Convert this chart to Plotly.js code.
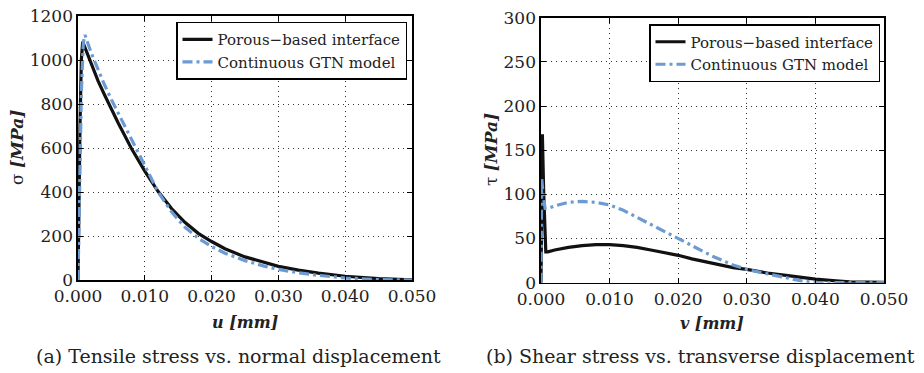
<!DOCTYPE html>
<html>
<head>
<meta charset="utf-8">
<script src="https://cdn.plot.ly/plotly-3.0.1.min.js"></script>
<style>
html,body{margin:0;padding:0;background:#fff;}
#chart{width:924px;height:373px;}
</style>
</head>
<body>
<div id="chart"></div>
<script>
// (a) Tensile stress vs. normal displacement
const uPorous = [0, 0.0001, 0.0003, 0.0005, 0.0007, 0.001, 0.002, 0.003, 0.004, 0.005, 0.006, 0.008, 0.010, 0.012, 0.014, 0.016, 0.018, 0.020, 0.022, 0.025, 0.028, 0.030, 0.033, 0.036, 0.040, 0.045, 0.050];
const sigmaPorous = [0, 300, 700, 1000, 1083, 1060, 985, 905, 840, 775, 715, 598, 495, 402, 325, 262, 212, 175, 142, 105, 77, 62, 45, 31, 17, 6, 1];
const uGTN = [0, 0.0002, 0.0005, 0.0008, 0.00105, 0.002, 0.003, 0.004, 0.005, 0.006, 0.008, 0.010, 0.012, 0.014, 0.016, 0.018, 0.020, 0.022, 0.025, 0.028, 0.030, 0.033, 0.036, 0.040, 0.045, 0.050];
const sigmaGTN = [0, 400, 850, 1080, 1114, 1030, 955, 885, 820, 760, 635, 518, 400, 310, 240, 190, 152, 122, 88, 62, 48, 33, 21, 9, 2, 0];

// (b) Shear stress vs. transverse displacement
const vPorous = [0, 0.00005, 0.0002, 0.0004, 0.0007, 0.001, 0.002, 0.004, 0.006, 0.008, 0.010, 0.012, 0.014, 0.016, 0.018, 0.020, 0.022, 0.025, 0.028, 0.030, 0.033, 0.036, 0.040, 0.043, 0.045, 0.050];
const tauPorous = [0, 100, 168, 100, 35, 35, 37, 40, 42, 43, 43, 42, 40, 37, 34, 31, 27, 22, 17, 15, 11, 8, 4, 2, 1, 0.5];
const vGTN = [0, 0.0001, 0.0003, 0.0006, 0.001, 0.002, 0.004, 0.006, 0.008, 0.010, 0.012, 0.014, 0.016, 0.018, 0.020, 0.022, 0.025, 0.028, 0.030, 0.033, 0.036, 0.038, 0.040, 0.045, 0.050];
const tauGTN = [0, 118, 100, 84, 84, 87, 91, 92, 91, 88, 82, 74, 66, 58, 50, 42, 30, 20, 15, 10, 5, 2, 0, 0, 0];

const seriesNames = ['Porous\u2212based interface', 'Continuous GTN model'];
const captions = ['(a) Tensile stress vs. normal displacement', '(b) Shear stress vs. transverse displacement'];

const W = 924, H = 373;
const px = v => v / W;
const py = v => 1 - v / H;

const serif = 'DejaVu Serif';
const black = '#111111';
const blue = '#6c9bd3';
const txt = '#222';

const traces = [
  {x: uPorous, y: sigmaPorous, name: seriesNames[0], mode: 'lines', line: {color: black, width: 3.2}, xaxis: 'x', yaxis: 'y', legend: 'legend'},
  {x: uGTN, y: sigmaGTN, name: seriesNames[1], mode: 'lines', line: {color: blue, width: 3.2, dash: '10px,4px,3px,4px'}, xaxis: 'x', yaxis: 'y', legend: 'legend'},
  {x: vPorous, y: tauPorous, name: seriesNames[0], mode: 'lines', line: {color: black, width: 3.2}, xaxis: 'x2', yaxis: 'y2', legend: 'legend2'},
  {x: vGTN, y: tauGTN, name: seriesNames[1], mode: 'lines', line: {color: blue, width: 3.2, dash: '10px,4px,3px,4px'}, xaxis: 'x2', yaxis: 'y2', legend: 'legend2'}
];

const tickFont = {family: serif, size: 17, color: txt};
function ax(extra) {
  return Object.assign({
    showline: true, linecolor: '#000', linewidth: 1.6, mirror: 'allticks',
    ticks: 'inside', ticklen: 5, tickwidth: 1, tickcolor: '#000',
    showgrid: true, gridcolor: '#333', griddash: '1px,4px', gridwidth: 1,
    zeroline: false, tickfont: tickFont, fixedrange: true
  }, extra);
}

const legendBase = {
  bgcolor: '#fff', bordercolor: '#000', borderwidth: 1.5,
  font: {family: serif, size: 15, color: txt},
  xanchor: 'right', yanchor: 'top', tracegroupgap: 0, itemwidth: 30
};

function ann(text, x, y, size, angle) {
  return {text: text, xref: 'paper', yref: 'paper', x: px(x), y: py(y), xanchor: 'center', yanchor: 'middle',
    textangle: angle || 0, showarrow: false, font: {family: serif, size: size, color: txt}};
}

const layout = {
  width: W, height: H,
  margin: {l: 0, r: 0, t: 0, b: 0},
  paper_bgcolor: '#fff', plot_bgcolor: '#fff',
  showlegend: true,
  font: {family: serif, color: txt},
  xaxis: ax({domain: [px(78), px(412)], range: [0, 0.05], dtick: 0.01, tickformat: '.3f', anchor: 'y'}),
  yaxis: ax({domain: [py(280), py(16)], range: [0, 1200], dtick: 200, anchor: 'x'}),
  xaxis2: ax({domain: [px(541), px(884)], range: [0, 0.05], dtick: 0.01, tickformat: '.3f', anchor: 'y2'}),
  yaxis2: ax({domain: [py(282.7), py(17.7)], range: [0, 300], dtick: 50, anchor: 'x2'}),
  legend: Object.assign({}, legendBase, {x: px(407), y: py(21.7)}),
  legend2: Object.assign({}, legendBase, {x: px(880), y: py(24)}),
  annotations: [
    ann('<b><i>u [mm]</i></b>', 245, 322, 16),
    ann('<b><i>v [mm]</i></b>', 712, 323, 16),
    ann('\u03c3 <b><i>[MPa]</i></b>', 17, 148, 17, -90),
    ann('\u03c4 <b><i>[MPa]</i></b>', 491, 150, 17, -90),
    ann(captions[0], 238, 356, 19),
    ann(captions[1], 700, 356, 19)
  ]
};

Plotly.newPlot('chart', traces, layout, {displayModeBar: false, staticPlot: true});
</script>
</body>
</html>
